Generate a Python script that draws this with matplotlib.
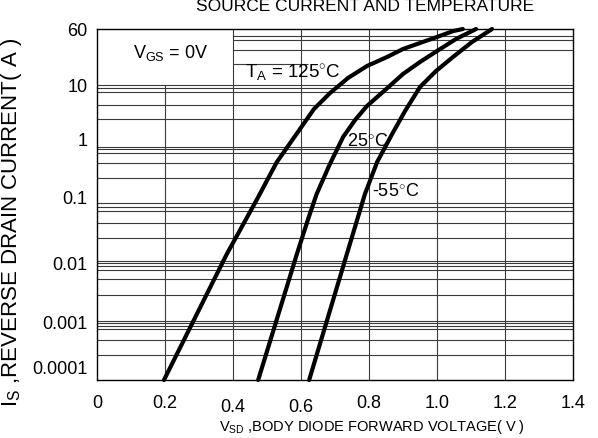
import numpy as np
import matplotlib
matplotlib.use("Agg")
import matplotlib.pyplot as plt
from matplotlib.transforms import ScaledTranslation

plt.rcParams['font.family'] = ['Liberation Sans', 'DejaVu Sans']
plt.rcParams['mathtext.fontset'] = 'custom'
plt.rcParams['mathtext.rm'] = 'Liberation Sans'
plt.rcParams['mathtext.it'] = 'Liberation Sans'

# ---- data ----
v_125 = [0.197, 0.382, 0.471, 0.529, 0.597, 0.638, 0.685, 0.738, 0.794, 0.853,
         0.900, 0.950, 1.000, 1.047, 1.076]
i_125 = [1e-4, 0.0143, 0.124, 0.533, 1.95, 4.28, 8.0, 14.5, 23.3, 33.2,
         45.5, 57.7, 73.0, 92.0, 100.0]

v_25 = [0.474, 0.588, 0.621, 0.646, 0.685, 0.724, 0.759, 0.794, 0.844, 0.900,
        0.950, 1.000, 1.056, 1.115]
i_25 = [1e-4, 0.0143, 0.0565, 0.151, 0.492, 1.43, 2.78, 4.83, 8.7, 17.0,
        27.3, 42.0, 67.5, 100.0]

v_m55 = [0.624, 0.735, 0.788, 0.824, 0.868, 0.906, 0.950, 0.997, 1.047, 1.103, 1.162]
i_m55 = [1e-4, 0.0143, 0.151, 0.533, 1.60, 3.96, 10.2, 19.1, 33.2, 60.0, 100.0]

x_ticks = [0, 0.2, 0.4, 0.6, 0.8, 1.0, 1.2, 1.4]
x_labels = ['0', '0.2', '0.4', '0.6', '0.8', '1.0', '1.2', '1.4']
y_ticks = [1e-4, 1e-3, 1e-2, 1e-1, 1, 10, 100]
y_labels = ['0.0001', '0.001', '0.01', '0.1', '1', '10', '60']

# horizontal grid lines of the chart (full width)
h_grid = [11, 9.8, 8.4, 5.0, 2.9,
          0.96, 0.89, 0.76, 0.51, 0.28,
          0.106, 0.091, 0.078, 0.048, 0.027,
          0.0108, 0.0100, 0.0089, 0.0076, 0.0053, 0.0028,
          0.00102, 0.00094, 0.00084, 0.00074, 0.00048, 0.00027]
# grid lines above 10 A, right of the V_GS box
h_grid_top = [75, 65, 44]

W, H = 598, 439
fig = plt.figure(figsize=(W / 100, H / 100), dpi=100)
ax = fig.add_axes([97 / W, 1 - 381 / H, (573 - 97) / W, (381 - 30) / H])
ax.set_yscale('log')
ax.set_xlim(0, 1.4)
ax.set_ylim(1e-4, 100)

gcol = '#3a3a3a'
for y in h_grid:
    ax.axhline(y, color=gcol, lw=0.8, zorder=1)
ax.hlines(h_grid_top, 0.4, 1.4, color=gcol, lw=0.8, zorder=1)
ax.hlines([25], 0.4, 0.62, color=gcol, lw=0.8, zorder=1)
for x in [0.4, 0.6, 0.8, 1.0, 1.2]:
    ax.axvline(x, color=gcol, lw=0.8, zorder=1)
ax.vlines([0.2], 1e-4, 11, color=gcol, lw=0.8, zorder=1)

for v, i in [(v_125, i_125), (v_25, i_25), (v_m55, i_m55)]:
    ax.plot(v, i, color='black', lw=3.0, solid_capstyle='round',
            solid_joinstyle='round', zorder=3, clip_on=False)

for s in ax.spines.values():
    s.set_linewidth(1.0)
    s.set_color('black')

ax.set_xticks(x_ticks)
ax.set_xticklabels(x_labels)
ax.set_yticks(y_ticks)
ax.set_yticklabels(y_labels)
ax.minorticks_off()
ax.tick_params(axis='both', length=0, labelsize=13, colors='black')
ax.tick_params(axis='x', pad=10)
ax.tick_params(axis='y', pad=7)

# small vertical shifts of tick labels as in the reference
y_shift = [13, 0, 1, 8, 7, 3, 1]
for lab, d in zip(ax.get_yticklabels(), y_shift):
    lab.set_transform(lab.get_transform() + ScaledTranslation(0, d / 100, fig.dpi_scale_trans))
x_shift = [0, 0, -4, -4, 0, 0, 0, 0]
for lab, d in zip(ax.get_xticklabels(), x_shift):
    lab.set_transform(lab.get_transform() + ScaledTranslation(0, d / 100, fig.dpi_scale_trans))

def ypix(p):
    return 10 ** (2 - (p - 30) * 6 / 351)

# annotations
ax.text(0.105, ypix(53), r'$\mathrm{V_{GS}}$ = 0V', fontsize=13, va='center', ha='left')
ax.text(0.435, ypix(73), r'$\mathrm{T_A}$ = 125$^{\circ}$C', fontsize=13.5,
        va='center', ha='left')
ax.text(0.735, ypix(142), r'25$^{\circ}$C', fontsize=13, va='center', ha='left')
ax.text(0.808, ypix(191), r'-55$^{\circ}$C', fontsize=13, va='center', ha='left')

fig.text(365 / W, 1 - 11 / H, 'SOURCE CURRENT AND TEMPERATURE', fontsize=12.5,
         ha='center', va='baseline')
fig.text(372 / W, 1 - 427 / H, r'$\mathrm{V_{SD}}$ ,BODY DIODE FORWARD VOLTAGE( V )',
         fontsize=10.5, ha='center', va='center')
fig.text(12 / W, 1 - 222 / H, r'$\mathrm{I_S}$ ,REVERSE DRAIN CURRENT( A )',
         fontsize=16, ha='center', va='center', rotation=90)

fig.savefig('out.png', dpi=100)
